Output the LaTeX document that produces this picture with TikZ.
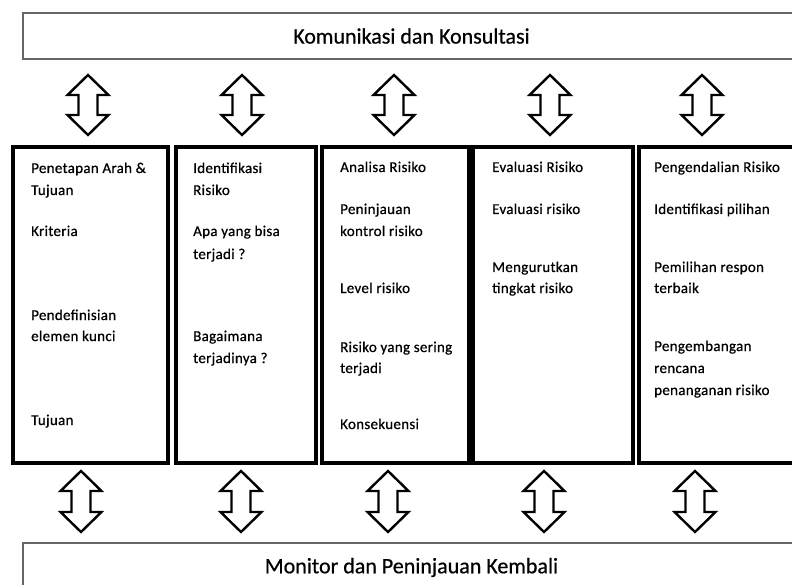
\documentclass[tikz,border=0pt]{standalone}
\usepackage{fontspec}
\setmainfont{Carlito}[FakeBold=0.6]
\newfontfamily\boxfont{Carlito}[LetterSpace=2,FakeBold=0.6]
\newcommand\dblarrow[3]{%
  \draw[hollow] (#1,#2) -- (#1+20.5,#2+20) -- (#1+9.5,#2+20) -- (#1+9.5,#3-20)
    -- (#1+20.5,#3-20) -- (#1,#3) -- (#1-20.5,#3-20) -- (#1-9.5,#3-20)
    -- (#1-9.5,#2+20) -- (#1-20.5,#2+20) -- cycle;}
\begin{document}
\begin{tikzpicture}[x=1pt,y=-1pt,
  bar/.style={draw=black!60, line width=1.8pt, fill=white, inner sep=0pt,
    font=\fontsize{22}{26}\selectfont},
  stage/.style={draw=black, line width=3.2pt, inner sep=0pt},
  txt/.style={anchor=base west, inner sep=0pt, font=\boxfont\fontsize{15}{18}\selectfont},
  hollow/.style={draw=black, line width=2.4pt, fill=white, line join=miter}]
\useasboundingbox (0,0) rectangle (792,585);
\clip (0,0) rectangle (792,585);
\fill[white] (0,0) rectangle (792,585);

% bars
\node[bar, minimum width=777pt, minimum height=46pt] (kom) at (411.5,36) {Komunikasi dan Konsultasi};
\node[bar, minimum width=777pt, minimum height=49pt] (mon) at (411.5,567.5) {Monitor dan Peninjauan Kembali};

% stage boxes
\node[stage, minimum width=155pt, minimum height=316pt] (b1) at (90.5,305) {};
\node[stage, minimum width=140pt, minimum height=316pt] (b2) at (246,305) {};
\node[stage, minimum width=147pt, minimum height=316pt] (b3) at (395.5,305) {};
\node[stage, minimum width=160pt, minimum height=316pt] (b4) at (553,305) {};
\node[stage, minimum width=171pt, minimum height=316pt] (b5) at (724.5,305) {};

% arrows top
\dblarrow{88}{75}{135}
\dblarrow{242}{75}{135}
\dblarrow{394}{75}{135}
\dblarrow{550}{75}{135}
\dblarrow{702}{75}{135}
% arrows bottom
\dblarrow{81}{471}{532}
\dblarrow{241}{471}{532}
\dblarrow{388}{471}{532}
\dblarrow{544}{471}{532}
\dblarrow{695}{471}{532}

% box 1
\node[txt] (t1a) at (31,173) {Penetapan Arah \&};
\node[txt] (t1b) at (31,195) {Tujuan};
\node[txt] (t1c) at (31,236) {Kriteria};
\node[txt] (t1d) at (31,320) {Pendefinisian};
\node[txt] (t1e) at (31,341) {elemen kunci};
\node[txt] (t1f) at (31,425) {Tujuan};
% box 2
\node[txt] (t2a) at (193,173) {Identifikasi};
\node[txt] (t2b) at (193,195) {Risiko};
\node[txt] (t2c) at (193,236) {Apa yang bisa};
\node[txt] (t2d) at (193,259) {terjadi ?};
\node[txt] (t2e) at (193,341) {Bagaimana};
\node[txt] (t2f) at (193,363) {terjadinya ?};
% box 3
\node[txt] (t3a) at (340,172) {Analisa Risiko};
\node[txt] (t3b) at (340,214) {Peninjauan};
\node[txt] (t3c) at (340,236) {kontrol risiko};
\node[txt] (t3d) at (340,293) {Level risiko};
\node[txt] (t3e) at (340,352) {Risiko yang sering};
\node[txt] (t3f) at (340,373) {terjadi};
\node[txt] (t3g) at (340,429) {Konsekuensi};
% box 4
\node[txt] (t4a) at (492,172) {Evaluasi Risiko};
\node[txt] (t4b) at (492,214) {Evaluasi risiko};
\node[txt] (t4c) at (492,272) {Mengurutkan};
\node[txt] (t4d) at (492,293) {tingkat risiko};
% box 5
\node[txt] (t5a) at (654,172) {Pengendalian Risiko};
\node[txt] (t5b) at (654,214) {Identifikasi pilihan};
\node[txt] (t5c) at (654,272) {Pemilihan respon};
\node[txt] (t5d) at (654,293) {terbaik};
\node[txt] (t5e) at (654,351) {Pengembangan};
\node[txt] (t5f) at (654,373) {rencana};
\node[txt] (t5g) at (654,395) {penanganan risiko};
\end{tikzpicture}
\end{document}
